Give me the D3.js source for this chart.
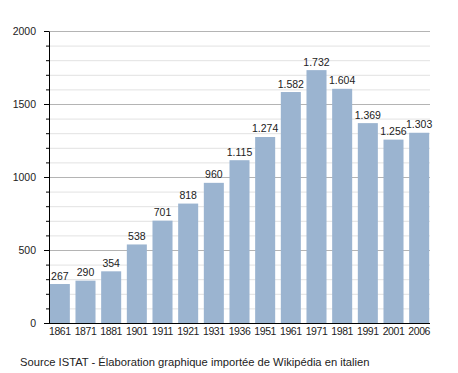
<!DOCTYPE html>
<html>
<head>
<meta charset="utf-8">
<script src="https://cdn.jsdelivr.net/npm/d3@7"></script>
<style>
  body { margin: 0; background: #fff; }
  text { font-family: "Liberation Sans", Arial, sans-serif; fill: #222; }
</style>
</head>
<body>
<svg id="chart" width="458" height="373"></svg>
<script>
(function () {
  // census years and population
  var years = ["1861", "1871", "1881", "1901", "1911", "1921", "1931", "1936",
    "1951", "1961", "1971", "1981", "1991", "2001", "2006"];
  var population = [267, 290, 354, 538, 701, 818, 960, 1115,
    1274, 1582, 1732, 1604, 1369, 1256, 1303];
  var yTicks = [0, 500, 1000, 1500, 2000];
  var footer = "Source ISTAT - Élaboration graphique importée de Wikipédia en italien";

  var data = years.map((y, i) => ({ year: y, value: population[i] }));

  var svg = d3.select("#chart");

  var left = 49, right = 430, top = 31, bottom = 323;

  var x = d3.scaleBand()
    .domain(years)
    .range([47, 432])
    .paddingInner(0.22)
    .paddingOuter(0.11);

  var y = d3.scaleLinear().domain([0, 2000]).range([bottom, top]);

  // grid: light every 100, darker every 500
  svg.append("g")
    .selectAll("line")
    .data(d3.range(100, 2001, 100))
    .join("line")
    .attr("x1", left)
    .attr("x2", right)
    .attr("y1", (d) => y(d) + 0.5)
    .attr("y2", (d) => y(d) + 0.5)
    .attr("stroke", (d) => (d % 500 === 0 ? "#b4b4b4" : "#e2e2e2"))
    .attr("stroke-width", 1);

  // bars
  svg.append("g")
    .selectAll("rect")
    .data(data)
    .join("rect")
    .attr("x", (d) => x(d.year))
    .attr("y", (d) => y(d.value))
    .attr("width", x.bandwidth())
    .attr("height", (d) => bottom - y(d.value))
    .attr("fill", "#9bb4d0");

  // value labels (italian thousands separator)
  var fmt = d3.formatLocale({ decimal: ",", thousands: ".", grouping: [3], currency: ["", "€"] }).format(",");
  svg.append("g")
    .selectAll("text")
    .data(data)
    .join("text")
    .attr("x", (d) => x(d.year) + x.bandwidth() / 2)
    .attr("y", (d) => y(d.value) - 4.5)
    .attr("text-anchor", "middle")
    .attr("font-size", 10.5)
    .text((d) => fmt(d.value));

  // y axis with minor ticks
  svg.append("g")
    .attr("transform", `translate(${left},0)`)
    .call(d3.axisLeft(y).tickValues(d3.range(100, 2000, 100).filter((d) => d % 500)).tickSize(3).tickFormat(""))
    .call((g) => g.select(".domain").remove());

  var yAxis = svg.append("g")
    .attr("transform", `translate(${left},0)`)
    .call(d3.axisLeft(y).tickValues(yTicks).tickFormat(d3.format("d")).tickSize(5).tickSizeOuter(0).tickPadding(8));
  yAxis.selectAll("text").attr("font-size", 10.5).attr("font-family", null).attr("fill", null);

  // x axis
  var xAxis = svg.append("g")
    .attr("transform", `translate(0,${bottom})`)
    .call(d3.axisBottom(x).tickSize(0).tickPadding(5));
  xAxis.select(".domain").attr("d", `M${left},0.5H${right}`);
  xAxis.selectAll("text")
    .attr("font-size", 10.5)
    .attr("font-family", null)
    .attr("fill", null)
    .attr("letter-spacing", "-0.4px");

  svg.append("text")
    .attr("x", 20)
    .attr("y", 366)
    .attr("font-size", 11.2)
    .text(footer);
})();
</script>
</body>
</html>
